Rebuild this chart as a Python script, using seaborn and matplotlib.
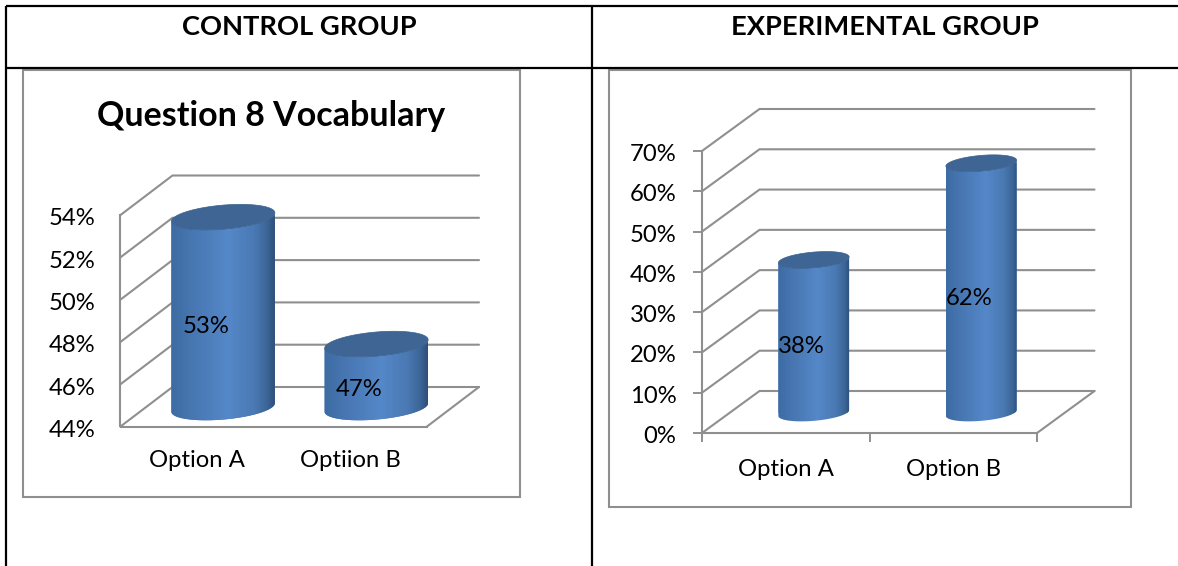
import matplotlib
matplotlib.use("Agg")
import matplotlib.pyplot as plt
import numpy as np
import seaborn as sns
from matplotlib.colors import LinearSegmentedColormap
from matplotlib.patches import PathPatch, Rectangle
from matplotlib.path import Path
from matplotlib.transforms import Affine2D, IdentityTransform

# Survey results for question 8, in percent
control_categories = ["Option A", "Optiion B"]
control_values = [53, 47]
control_ticks = [44, 46, 48, 50, 52, 54]

experimental_categories = ["Option A", "Option B"]
experimental_values = [38, 62]
experimental_ticks = [0, 10, 20, 30, 40, 50, 60, 70]

WIDTH, HEIGHT = 1178, 566
GREY = "#8f8f8f"
TOP_BLUE = "#3e6593"
FONT = "Lato"
LABEL_SIZE = 17.2

sns.set_theme(style="white")
plt.rcParams["font.family"] = [FONT, "DejaVu Sans"]

cylinder_shade = LinearSegmentedColormap.from_list(
    "cylinder",
    [(0.0, "#3d6ba3"), (0.2, "#4776b1"), (0.55, "#5588c9"),
     (0.8, "#4a79b3"), (0.93, "#3b6596"), (1.0, "#2f4e79")],
)


def axes_from_pixels(fig, left, right, top, bottom):
    """Add an axes given its edges in pixels measured from the top-left."""
    return fig.add_axes([left / WIDTH, 1 - bottom / HEIGHT,
                         (right - left) / WIDTH, (bottom - top) / HEIGHT])


def ellipse_points(cx, cy, a, b, angle_deg, n=181):
    t = np.linspace(0, 2 * np.pi, n)
    th = np.radians(angle_deg)
    x = cx + a * np.cos(t) * np.cos(th) - b * np.sin(t) * np.sin(th)
    y = cy + a * np.cos(t) * np.sin(th) + b * np.sin(t) * np.cos(th)
    return np.column_stack([x, y])


def lower_arc(pts):
    """Arc of a closed ellipse outline from its leftmost to its rightmost point, underneath."""
    pts = pts[:-1]
    i_left, i_right = pts[:, 0].argmin(), pts[:, 0].argmax()
    idx = i_left
    arc = [pts[idx]]
    while idx != i_right:
        idx = (idx + 1) % len(pts)
        arc.append(pts[idx])
    return np.array(arc)


def draw_chart(fig, categories, values, ticks, front, plane, depth,
               bar_width, b_radius, label_offset, tick_len, y_pad, x_pad, label_drop):
    left, right, top, bottom = front
    ymin, ymax = ticks[0], ticks[-1]
    px_per_unit = (bottom - top) / (ymax - ymin)
    px_per_cat = (right - left) / len(categories)

    # Front plane: carries the axis, the tick labels and the receding gridlines
    ax = axes_from_pixels(fig, left, right, top, bottom)
    ax.set_zorder(1)
    ax.patch.set_visible(False)
    ax.set_xlim(-0.5, len(categories) - 0.5)
    ax.set_ylim(ymin, ymax)
    ax.set_yticks(ticks, [f"{t}%" for t in ticks])
    ax.set_xticks(range(len(categories)), categories)
    ax.tick_params(axis="x", which="major", length=0, pad=x_pad,
                   labelsize=LABEL_SIZE, labelcolor="black")
    ax.tick_params(axis="y", which="major", length=tick_len, width=1.4, color=GREY,
                   pad=y_pad, labelsize=LABEL_SIZE, labelcolor="black", left=True)
    for tick in ax.yaxis.get_major_ticks():
        tick.label1.set_transform(tick.label1.get_transform()
                                  + Affine2D().translate(0, -label_drop))
    if tick_len:
        ax.set_xticks(np.arange(-0.5, len(categories)), minor=True)
        ax.tick_params(axis="x", which="minor", length=tick_len, width=1.4,
                       color=GREY, bottom=True)
    for name, spine in ax.spines.items():
        spine.set_visible(name in ("left", "bottom"))
        spine.set_color(GREY)
        spine.set_linewidth(1.5)

    dx, dy = depth[0] / px_per_cat, depth[1] / px_per_unit
    x0, x1 = -0.5, len(categories) - 0.5
    for t in ticks:
        ax.plot([x0, x0 + dx, x1 + dx], [t, t + dy, t + dy], color=GREY, lw=1.5,
                clip_on=False, solid_joinstyle="miter")
    ax.plot([x1, x1 + dx], [ymin, ymin + dy], color=GREY, lw=1.5, clip_on=False)

    # Mid-depth plane: the cylinders stand here, on the same value scale
    shift_x, shift_y = plane
    margin = 30 / px_per_unit
    ax_bar = axes_from_pixels(fig, left + shift_x, right + shift_x,
                              top - shift_y, bottom - shift_y + 30)
    ax_bar.set_zorder(2)
    ax_bar.patch.set_visible(False)
    sns.barplot(x=categories, y=values, ax=ax_bar, width=bar_width,
                color="#4a7ab6", saturation=1)
    ax_bar.set_xlim(-0.5, len(categories) - 0.5)
    ax_bar.set_ylim(ymin - margin, ymax)
    ax_bar.set_autoscale_on(False)
    ax_bar.axis("off")

    to_display = ax_bar.transData.transform
    for bar, value in zip(list(ax_bar.patches), values):
        x_left, x_right = bar.get_x(), bar.get_x() + bar.get_width()
        x_mid = (x_left + x_right) / 2
        (px_l, base_y), (px_r, top_y) = to_display([(x_left, ymin), (x_right, value)])
        cx, a = (px_l + px_r) / 2, (px_r - px_l) / 2
        base = ellipse_points(cx, base_y, a, b_radius, 5)
        lid = ellipse_points(cx, top_y, a, b_radius, 5)
        base_arc = lower_arc(base)
        lid_arc = lower_arc(lid)
        outline = np.vstack([base_arc, lid_arc[::-1], base_arc[:1]])
        body = Path(outline, closed=True)

        bar.set_clip_path(body, IdentityTransform())
        bar.set_edgecolor("none")
        shade = ax_bar.imshow(np.linspace(0, 1, 256)[None, :], cmap=cylinder_shade,
                              extent=(x_left, x_right, ymin - margin, value + margin),
                              aspect="auto", interpolation="bilinear", zorder=3)
        shade.set_clip_path(body, IdentityTransform())
        ax_bar.add_patch(PathPatch(Path(lid, closed=True), transform=IdentityTransform(),
                                   facecolor=TOP_BLUE, edgecolor="#3a6190", lw=0.5,
                                   zorder=4, clip_on=False))
        ax_bar.annotate(f"{value}%", xy=(x_mid, (ymin + value) / 2),
                        xytext=label_offset, textcoords="offset pixels",
                        ha="center", va="center", fontsize=LABEL_SIZE, color="black",
                        zorder=5, annotation_clip=False)


fig = plt.figure(figsize=(WIDTH / 100, HEIGHT / 100), dpi=100, facecolor="white")

# Page layer: table rules, chart frames and headings
page = fig.add_axes([0, 0, 1, 1])
page.set_xlim(0, WIDTH)
page.set_ylim(HEIGHT, 0)
page.axis("off")
for xs, ys in [((6, WIDTH), (6, 6)), ((6, WIDTH), (68, 68)),
               ((6, 6), (6, HEIGHT)), ((592, 592), (6, HEIGHT))]:
    page.plot(xs, ys, color="black", lw=1.6, solid_capstyle="butt")
page.add_patch(Rectangle((23, 70), 497, 427, fill=False, edgecolor=GREY, lw=1.5))
page.add_patch(Rectangle((609, 70), 522, 437, fill=False, edgecolor=GREY, lw=1.5))
page.text(299, 27, "CONTROL GROUP", ha="center", va="center",
          fontsize=19.6, fontweight="bold", color="black")
page.text(885, 27, "EXPERIMENTAL GROUP", ha="center", va="center",
          fontsize=19.6, fontweight="bold", color="black")
page.text(271, 116.5, "Question 8 Vocabulary", ha="center", va="center",
          fontsize=24.5, fontweight="bold", color="black")

draw_chart(fig, control_categories, control_values, control_ticks,
           front=(120.5, 427, 215, 426.5), plane=(26, 19), depth=(52, 39.5),
           bar_width=0.678, b_radius=12, label_offset=(-17, -14),
           tick_len=0, y_pad=18, x_pad=17, label_drop=2)

draw_chart(fig, experimental_categories, experimental_values, experimental_ticks,
           front=(702, 1037, 151, 433), plane=(28, 20), depth=(57.5, 42),
           bar_width=0.424, b_radius=7.8, label_offset=(-12, -10),
           tick_len=6.5, y_pad=12, x_pad=19, label_drop=1.5)

fig.savefig("out.png", dpi=100, facecolor="white")
